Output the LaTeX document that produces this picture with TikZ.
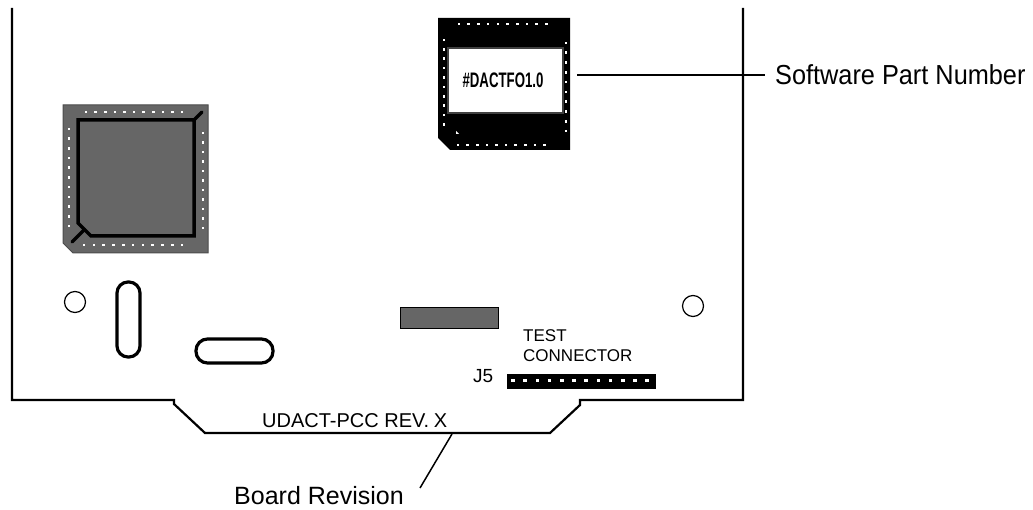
\documentclass[tikz,border=0pt]{standalone}
\usepackage{fontspec}
\setmainfont{Liberation Sans}
\usepackage{graphicx}
\usetikzlibrary{positioning}
\definecolor{chipgray}{HTML}{666666}

\begin{document}
\begin{tikzpicture}[x=1pt,y=-1pt,
    pin/.style={fill=white},
    lbl/.style={inner sep=0pt,anchor=base west}]
    \useasboundingbox (0,0) rectangle (1033,510);

    % Board outline
    \draw[line width=2.2] (12,8) -- (12,400) -- (174,400) -- (174,404) -- (205,433)
        -- (550,433) -- (580,405) -- (580,400) -- (743,400) -- (743,8);

    % PLCC chip
    \draw[fill=chipgray,draw=black!70,line width=1] (63,105) -- (208,105) -- (208,253) -- (73,253) -- (63,243) -- cycle;
    \draw[fill=chipgray,line width=3.5] (78,120) -- (194,120) -- (194,236) -- (91,236) -- (78,223) -- cycle;
    \draw[line width=3.5,line cap=round] (194,120) -- (202,112);
    \draw[line width=3.5,line cap=round] (84.5,229.5) -- (72,242);
    \foreach \i in {0,...,10} {
        \fill[pin] ({86+\i*9.6-1.3},112-1.3) rectangle +(2.6,2.6);
        \fill[pin] ({84+\i*9.8-1.3},245-1.3) rectangle +(2.6,2.6);
        \fill[pin] (69-1.3,{129+\i*9.7-1.3}) rectangle +(2.6,2.6);
        \fill[pin] (203-1.3,{133+\i*9.5-1.3}) rectangle +(2.6,2.6);
    }

    % EPROM
    \fill[black] (438,18) -- (570,18) -- (570,150) -- (450,150) -- (438,138) -- cycle;
    \foreach \i in {0,...,9} {
        \fill[pin] ({459+\i*9.7-1.3},24-1.3) rectangle +(2.6,2.6);
        \fill[pin] ({458+\i*9.6-1.3},145-1.3) rectangle +(2.6,2.6);
        \fill[pin] (444-1.3,{40+\i*9.4-1.3}) rectangle +(2.6,2.6);
        \fill[pin] (566-1.3,{43+\i*9.8-1.3}) rectangle +(2.6,2.6);
    }
    \fill[pin] (456,131) -- (459,134) -- (456,134) -- cycle;
    \draw[fill=white,draw=black!75,line width=1.5] (448,48) rectangle (563,113);
    \node (partno) at (503,80.5) {\fontsize{21}{24}\selectfont\bfseries\scalebox{0.63}[1]{\#DACTFO1.0}};

    % Mounting holes and slots
    \draw[line width=1.2] (75,302) circle (10.5);
    \draw[line width=1.2] (693,306) circle (10.5);
    \draw[line width=3.2,rounded corners=11] (117,282) rectangle (140,357);
    \draw[line width=3.2,rounded corners=11.5] (196,339) rectangle (273,363);

    % Crystal
    \draw[fill=chipgray,line width=1] (400,308) rectangle (498,329);

    % Test connector J5
    \fill[black] (507,374) rectangle (656,389);
    \foreach \i in {0,...,11} {
        \fill[pin] ({513+\i*12.2-1.8},378.5) rectangle +(3.6,3.6);
    }
    \node[lbl] (test) at (523,342) {\fontsize{17}{20}\selectfont TEST};
    \node[lbl] (connector) at (523,362) {\fontsize{17}{20}\selectfont CONNECTOR};
    \node[lbl] (jfive) at (473,382) {\fontsize{19}{22}\selectfont J5};

    % Labels
    \node[lbl] (boardname) at (262,427) {\fontsize{20}{24}\selectfont UDACT-PCC REV.\kern-1pt\ X};
    \node[lbl,inner xsep=10pt] (swlabel) at (765,85) {\fontsize{27.5}{32}\selectfont\scalebox{0.92}[1]{Software Part Number}};
    \node[lbl] (revlabel) at (234,504.5) {\fontsize{25}{30}\selectfont Board Revision};

    % Leaders
    \coordinate (swtip) at (577,75);
    \coordinate (revtip) at (452,434);
    \coordinate (revend) at (420,488);
    \draw[line width=1.5] (swtip) -- (swtip -| swlabel.west);
    \draw[line width=1.5] (revtip) -- (revend);
\end{tikzpicture}
\end{document}
